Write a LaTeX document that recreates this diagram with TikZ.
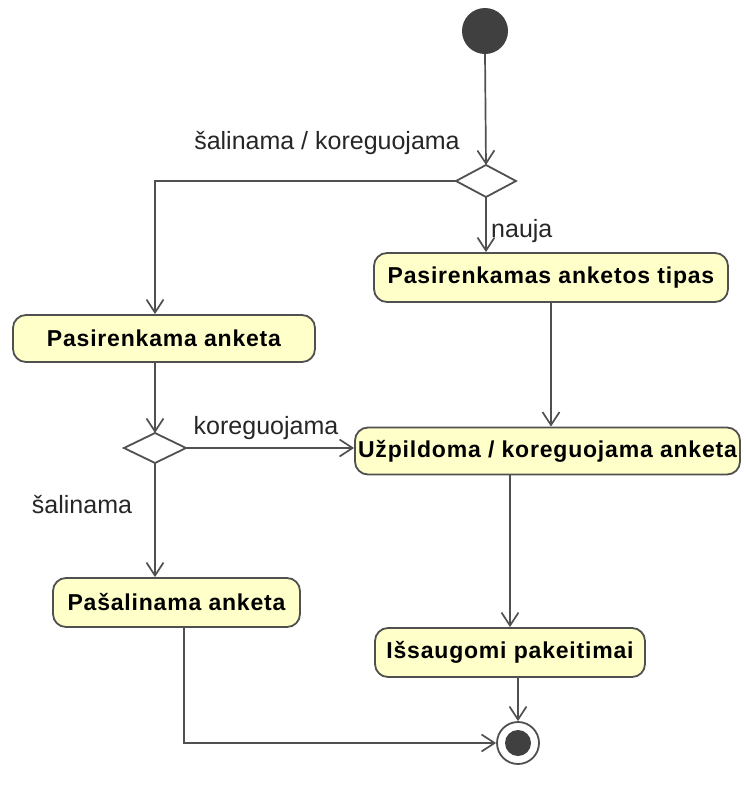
\documentclass[tikz,border=0pt]{standalone}
\usepackage{fontspec}
\setmainfont{Liberation Sans}
\newfontfamily\actfont{Liberation Sans}[LetterSpace=3.5]
\usepackage{tikz}
\usetikzlibrary{arrows.meta}
\definecolor{actfill}{RGB}{255,255,202}
\definecolor{linegray}{RGB}{80,80,80}

\begin{document}
\begin{tikzpicture}
[
    x = 1pt, y = -1pt,
    font = \fontsize{25}{29}\selectfont,
    action/.style={draw=linegray, fill=actfill, line width=1.8pt, rounded corners=13pt,
        font=\fontsize{23}{27}\actfont\bfseries, inner sep=0pt},
    choice/.style={draw=linegray, line width=1.8pt, fill=white},
    flow/.style={draw=linegray, line width=1.7pt, -{Straight Barb[length=13pt, width=17pt, line width=1.7pt]}},
    lbl/.style={inner sep=0pt, text=black!85},
]
\useasboundingbox (0,0) rectangle (745,793);

% Start and end
\fill[black!75] (485,31) circle (23pt) coordinate (start);
\node[circle, draw=linegray, line width=1.8pt, minimum size=42pt, fill=white] (stop) at (518,743) {};
\fill[black!75] (stop) circle (13pt);

% Decisions
\path[choice] (456,181) -- (486,165) -- (516,181) -- (486,197) -- cycle;
\coordinate (d1n) at (486,165);
\coordinate (d1w) at (456,181);
\coordinate (d1s) at (486,197);
\path[choice] (124,448) -- (155,433) -- (186,448) -- (155,463) -- cycle;
\coordinate (d2n) at (155,433);
\coordinate (d2e) at (186,448);
\coordinate (d2s) at (155,463);

% Actions
\node[action, minimum width=354pt, minimum height=49pt] (tipas) at (551,277.5) {Pasirenkamas anketos tipas};
\node[action, minimum width=302pt, minimum height=47pt] (pasirenk) at (164,338.5) {Pasirenkama anketa};
\node[action, minimum width=385pt, minimum height=47pt] (pildom) at (547.5,451) {Užpildoma / koreguojama anketa};
\node[action, minimum width=247pt, minimum height=49pt] (salinam) at (176.5,602.5) {Pašalinama anketa};
\node[action, minimum width=270pt, minimum height=49pt] (issaug) at (510,652.5) {Išsaugomi pakeitimai};

\coordinate (c1) at (155,181);
\coordinate (c2) at (184,743);

% Flows
\draw[flow] (start) ++(0,23) -- (d1n);
\draw[flow] (d1w) -- (c1) -- (c1 |- pasirenk.north);
\draw[flow] (d1s) -- (d1s |- tipas.north);
\draw[flow] (d2n |- pasirenk.south) -- (d2n);
\draw[flow] (d2e) -- (pildom.west |- d2e);
\draw[flow] (d2s) -- (d2s |- salinam.north);
\draw[flow] (tipas.south) -- (tipas.south |- pildom.north);
\draw[flow] (issaug.north |- pildom.south) -- (issaug.north);
\draw[flow] (stop.north |- issaug.south) -- (stop.north);
\draw[flow] (c2 |- salinam.south) -- (c2) -- (stop.west);

% Guards
\node[lbl] (g1) at (327,143) {šalinama / koreguojama};
\node[lbl, anchor=west] (g2) at (491,231) {nauja};
\node[lbl] (g3) at (266,428) {koreguojama};
\node[lbl] (g4) at (82,505) {šalinama};
\end{tikzpicture}
\end{document}
